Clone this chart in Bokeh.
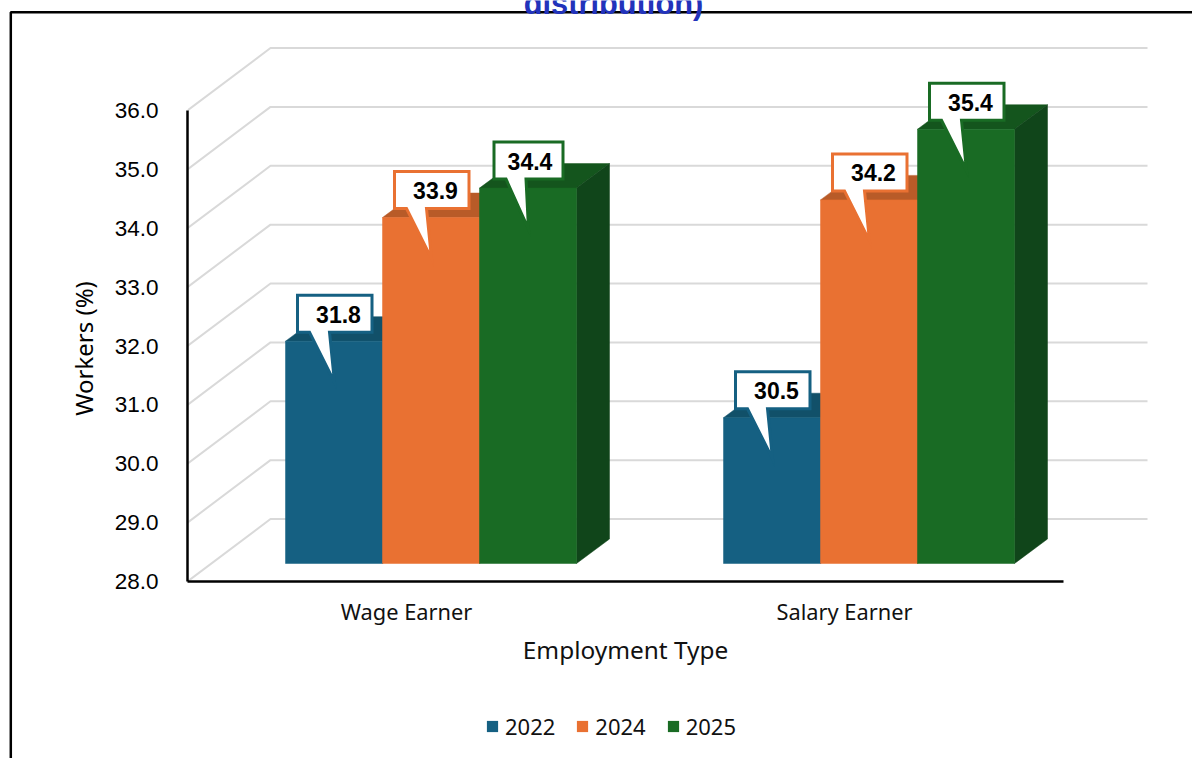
from math import pi
from bokeh.embed import file_html
from bokeh.layouts import column
from bokeh.resources import INLINE
from bokeh.plotting import figure
from bokeh.models import (ColumnDataSource, FixedTicker, Legend, LegendItem,
                          NumeralTickFormatter, Range1d)
from bokeh.core.properties import value

CATEGORIES = ["Wage Earner", "Salary Earner"]
YEARS = ["2022", "2024", "2025"]
VALUES_2022 = [31.8, 30.5]
VALUES_2024 = [33.9, 34.2]
VALUES_2025 = [34.4, 35.4]
Y_TICKS = [28, 29, 30, 31, 32, 33, 34, 35, 36]
TITLE_TAIL = "distribution)"
Y_TITLE = "Workers (%)"
X_TITLE = "Employment Type"
SERIES = [VALUES_2022, VALUES_2024, VALUES_2025]

FRONT = ["#156082", "#E97132", "#196B24"]
TOP = ["#115069", "#B85B28", "#14551D"]
SIDE = ["#0D3F55", "#8F4620", "#10451A"]

W, H = 1192, 758
LEFT, RIGHT, TOPPX, BOTTOM = 187, 1152, 40, 581
XPX = 438.0   # px per category
YPX = 58.875  # px per percent

dx = lambda px: px / XPX
dy = lambda px: px / YPX

FONT = "Noto Sans"
NUM = "Liberation Sans"

p = figure(width=W, height=H, output_backend="svg", toolbar_location=None,
           x_range=Range1d(-0.5, -0.5 + (RIGHT - LEFT) / XPX),
           y_range=Range1d(28, 28 + (BOTTOM - TOPPX) / YPX),
           min_border_left=LEFT, min_border_right=W - RIGHT, min_border_top=TOPPX,
           min_border_bottom=H - BOTTOM, outline_line_color=None, frame_align=False)
p.grid.visible = False

gx = [[-0.5, -0.5 + dx(83), -0.5 + dx(960)] for _ in Y_TICKS]
gy = [[t, t + dy(62.5), t + dy(62.5)] for t in Y_TICKS]
p.multi_line(gx, gy, line_color="#D9D9D9", line_width=2)

ya = p.yaxis[0]
ya.ticker = FixedTicker(ticks=Y_TICKS)
ya.formatter = NumeralTickFormatter(format="0.0")
ya.bounds = (28, 36)
ya.axis_line_color = "#000000"
ya.axis_line_width = 2.5
ya.major_tick_line_color = None
ya.minor_tick_line_color = None
ya.major_label_standoff = 23
ya.major_label_text_font = NUM
ya.major_label_text_font_size = "22.5px"
ya.major_label_text_color = "#000000"

xa = p.xaxis[0]
xa.ticker = FixedTicker(ticks=[0, 1])
xa.major_label_overrides = {i: c for i, c in enumerate(CATEGORIES)}
xa.bounds = (-0.5, 1.5)
xa.axis_line_color = "#000000"
xa.axis_line_width = 2.5
xa.major_tick_line_color = None
xa.minor_tick_line_color = None
xa.major_label_standoff = 9
xa.major_label_text_font = FONT
xa.major_label_text_font_size = "21.8px"
xa.major_label_text_color = "#111111"

BAR_W = 97.0
BAR_START = 285 - 406
DEPTH_X, DEPTH_Y = 33, 24.5
BAR_LIFT = 16.6
BASE = 28 + dy(18)
callouts = dict(xs=[], ys=[], line=[])
labels = dict(x=[], y=[], text=[])
for s, vals in enumerate(SERIES):
    lefts = [g + dx(BAR_START + s * BAR_W) for g in range(len(vals))]
    rights = [l + dx(BAR_W) for l in lefts]
    tops = [v + dy(BAR_LIFT) for v in vals]
    bot = [BASE] * len(vals)
    p.patches([[l, r, r + dx(DEPTH_X), l + dx(DEPTH_X)] for l, r in zip(lefts, rights)],
              [[t, t, t + dy(DEPTH_Y), t + dy(DEPTH_Y)] for t in tops],
              fill_color=TOP[s], line_color=TOP[s], line_width=0.5)
    p.patches([[r, r + dx(DEPTH_X), r + dx(DEPTH_X), r] for r in rights],
              [[t, t + dy(DEPTH_Y), b + dy(DEPTH_Y), b] for t, b in zip(tops, bot)],
              fill_color=SIDE[s], line_color=SIDE[s], line_width=0.5)
    src = ColumnDataSource(dict(left=lefts, right=rights, top=tops, bottom=bot))
    p.quad(left="left", right="right", top="top", bottom="bottom", source=src,
           fill_color=FRONT[s], line_color=FRONT[s], line_width=0.5)
    for g, (l, t, v) in enumerate(zip(lefts, tops, vals)):
        narrow = (s == 2 and g == 0)
        bl, br, tx = (14.5, 83.5, 50.5) if narrow else (12, 86.5, 53)
        offs = [(bl, 46), (br, 46), (br, 9), (bl + 32, 9), (49, -41), (bl + 12, 9), (bl, 9)]
        callouts["xs"].append([l + dx(a) for a, _ in offs])
        callouts["ys"].append([t + dy(b) for _, b in offs])
        callouts["line"].append(FRONT[s])
        labels["x"].append(l + dx(tx))
        labels["y"].append(t + dy(27))
        labels["text"].append(f"{v:.1f}")

p.patches("xs", "ys", source=ColumnDataSource(callouts), fill_color="#FFFFFF", line_color="line",
          line_width=3, line_join="miter")
p.text("x", "y", text="text", source=ColumnDataSource(labels), text_align="center",
       text_baseline="middle", text_font=value(NUM), text_font_style="bold",
       text_font_size="23px", text_color="#000000")

# transparent layer over the whole canvas: frame line, clipped title, axis titles, legend
over = figure(width=W, height=H, output_backend="svg", toolbar_location=None,
              x_range=Range1d(0, W), y_range=Range1d(H, 0),
              x_axis_location=None, y_axis_location=None,
              min_border=0, min_border_left=0, min_border_right=0, min_border_top=0, min_border_bottom=0,
              outline_line_color=None, background_fill_alpha=0, border_fill_alpha=0,
              margin=(-H, 0, 0, 0), frame_align=False)
over.grid.visible = False
over.line([10.3, 10.3, W + 5], [H + 5, 11.8, 11.8], line_color="#000000", line_width=2.5)
over.text([613], [3], text=[TITLE_TAIL], text_align="center", text_baseline="alphabetic",
          text_font=value(NUM), text_font_style="bold", text_font_size="30.8px", text_color="#2233BB")
over.text([625], [649], text=[X_TITLE], text_align="center", text_baseline="middle",
          text_font=value(FONT), text_font_size="24.4px", text_color="#111111")
over.text([83], [348], text=[Y_TITLE], text_align="center", text_baseline="middle", angle=pi / 2,
          text_font=value(FONT), text_font_size="24px", text_color="#000000")
items = []
for s, y in enumerate(YEARS):
    r = over.quad(left=[-50], right=[-40], top=[-50], bottom=[-40], fill_color=FRONT[s], line_color=None)
    items.append(LegendItem(label=y, renderers=[r]))
legend = Legend(items=items, orientation="horizontal", location=(485, 17), padding=0, margin=0,
                spacing=20, glyph_width=14, glyph_height=14, label_standoff=6,
                label_text_font=FONT, label_text_font_size="22px", label_text_color="#111111",
                border_line_color=None, background_fill_alpha=0)
over.add_layout(legend, "center")

root = column(p, over, margin=(0, -8, -8, 0))
open("out.html", "w").write(file_html(root, INLINE))
